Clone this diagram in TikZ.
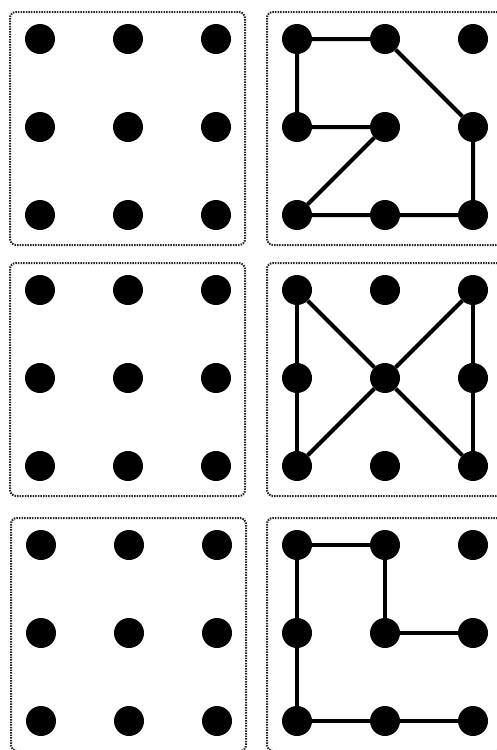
\documentclass[tikz,border=0pt]{standalone}
\begin{document}
\begin{tikzpicture}[x=1pt,y=-1pt,
  dot/.style={circle,fill=black,inner sep=0pt,minimum size=30pt},
  frame/.style={draw=black!85,line width=2pt,dash pattern=on 1.5pt off 1.1pt,rounded corners=6pt},
  link/.style={line width=4pt,black}]
\useasboundingbox (0,0) rectangle (497,750);
\fill[white] (0,0) rectangle (497,750);
\foreach \pn/\ox/\oy in {A/40/39,B/297/39,C/40/290,D/297/290,E/41/545,F/297/545}{
  \draw[frame] (\ox-30,\oy-27) rectangle (\ox+205,\oy+206);
  \foreach \c in {1,2,3}{
    \foreach \r in {1,2,3}{
      \node[dot] (\pn\c\r) at ({\ox+(\c-1)*88},{\oy+(\r-1)*88}) {};
    }
  }
}
% panel B
\draw[link] (B11) -- (B21) -- (B32) -- (B33) -- (B23) -- (B13) -- (B22) -- (B12) -- (B11);
% panel D
\draw[link] (D11) -- (D12) -- (D13);
\draw[link] (D13) -- (D22) -- (D31);
\draw[link] (D31) -- (D32) -- (D33);
\draw[link] (D33) -- (D22) -- (D11);
% panel F
\draw[link] (F11) -- (F21) -- (F22) -- (F32);
\draw[link] (F11) -- (F12) -- (F13) -- (F23) -- (F33);
\end{tikzpicture}
\end{document}
